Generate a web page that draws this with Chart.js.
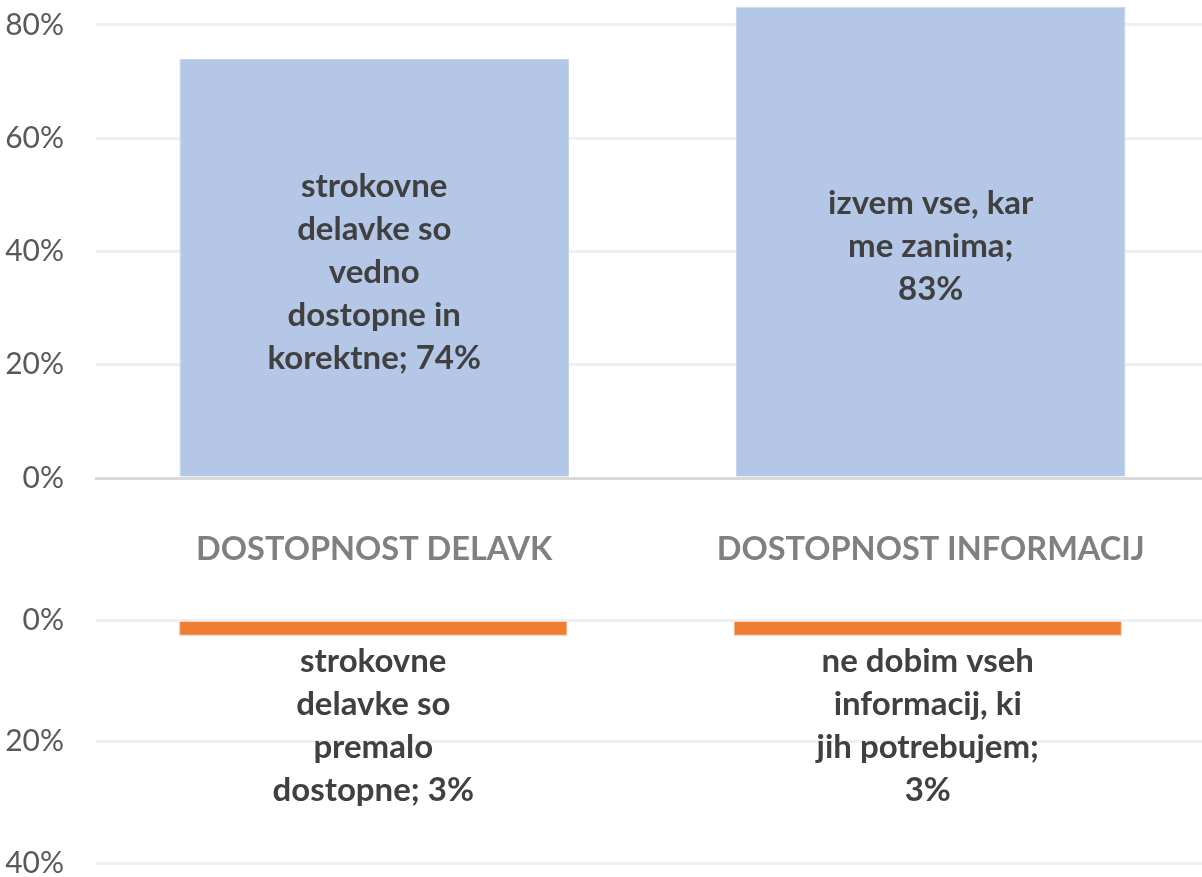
<!DOCTYPE html>
<html lang="sl">
<head>
  <meta charset="UTF-8">
  <title>Dostopnost</title>
  <script src="https://cdn.jsdelivr.net/npm/chart.js"></script>
  <style>
  body {
    margin: 0;
    background: #fff;
    font-family: Lato, sans-serif;
    overflow: hidden;
  }

  #topWrap {
    position: absolute;
    left: 0;
    top: 0;
    width: 1209px;
    height: 600px;
  }

  #bottomWrap {
    position: absolute;
    left: 0;
    top: 600px;
    width: 1205px;
    height: 277px;
  }
</style>
</head>
<body>
  <div id="topWrap"><canvas id="topChart"></canvas></div>
  <div id="bottomWrap"><canvas id="bottomChart"></canvas></div>

  <script>
    // data
    const categories = ['DOSTOPNOST DELAVK', 'DOSTOPNOST INFORMACIJ'];
    const positiveValues = [74, 83.2];
    const negativeValues = [2.6, 2.6];
    const positiveLabels = [
      ['strokovne', 'delavke so', 'vedno', 'dostopne in', 'korektne; 74%'],
      ['izvem vse, kar', 'me zanima;', '83%']
    ];
    const negativeLabels = [
      ['strokovne', 'delavke so', 'premalo', 'dostopne; 3%'],
      ['ne dobim vseh', 'informacij, ki', 'jih potrebujem;', '3%']
    ];
    const topTicks = [0, 20, 40, 60, 80];
    const bottomTicks = [0, 20, 40];

    const labelFont = 'bold 33px Lato';
    const labelLine = 43;

    // writes the multi-line labels, inside the bar (top) or under it (bottom)
    const barText = {
      id: 'barText',
      afterDatasetsDraw(chart, args, opts) {
        const ctx = chart.ctx;
        const meta = chart.getDatasetMeta(0);
        ctx.save();
        ctx.font = labelFont;
        ctx.fillStyle = '#404040';
        ctx.textAlign = 'center';
        ctx.textBaseline = 'middle';
        meta.data.forEach((bar, i) => {
          const lines = opts.lines[i];
          let y;
          if (opts.mode === 'inside') {
            const mid = (bar.y + bar.base) / 2;
            y = mid - (lines.length - 1) * labelLine / 2 + 5;
          } else {
            y = Math.max(bar.y, bar.base) + 26;
          }
          lines.forEach((t, k) => ctx.fillText(t, bar.x, y + k * labelLine));
        });
        ctx.restore();
      }
    };

    const keepTicks = (list) => (scale) => {
      scale.ticks = list.map(v => ({ value: v }));
    };

    // fixed axis width, and no extra room reserved for the end labels
    const fitY = (scale) => {
      scale.width = 96;
      scale.paddingTop = 0;
      scale.paddingBottom = 0;
    };

    const yTicks = {
      color: '#595959',
      font: { family: 'Lato', size: 30 },
      padding: 32,
      callback: v => v + '%'
    };

    new Chart(document.getElementById('topChart'), {
      type: 'bar',
      data: {
        labels: categories,
        datasets: [{
          data: positiveValues,
          backgroundColor: '#b4c7e7',
          borderColor: '#c4d3ee',
          borderWidth: 1,
          barPercentage: 0.7,
          categoryPercentage: 1
        }]
      },
      options: {
        responsive: true,
        maintainAspectRatio: false,
        animation: false,
        layout: { padding: 0 },
        plugins: {
          legend: { display: false },
          tooltip: { enabled: false },
          barText: { mode: 'inside', lines: positiveLabels }
        },
        scales: {
          x: {
            grid: { display: false, drawTicks: false },
            border: { color: '#d9d9d9', width: 3 },
            ticks: {
              color: '#808080',
              font: { family: 'Lato', weight: 'bold', size: 32.5 },
              padding: 52
            },
            afterFit(scale) { scale.height = 122; }
          },
          y: {
            min: 0,
            max: 84.4,
            afterBuildTicks: keepTicks(topTicks),
            grid: { color: '#f0f0f0', lineWidth: 3, drawTicks: false },
            border: { display: false },
            ticks: yTicks,
            afterFit: fitY
          }
        }
      },
      plugins: [barText]
    });

    new Chart(document.getElementById('bottomChart'), {
      type: 'bar',
      data: {
        labels: categories,
        datasets: [{
          data: negativeValues,
          backgroundColor: '#ed7d31',
          borderColor: '#f4b183',
          borderWidth: 1,
          barPercentage: 0.7,
          categoryPercentage: 1
        }]
      },
      options: {
        responsive: true,
        maintainAspectRatio: false,
        animation: false,
        layout: { padding: { top: 20, right: 0, bottom: 14, left: 0 } },
        plugins: {
          legend: { display: false },
          tooltip: { enabled: false },
          barText: { mode: 'below', lines: negativeLabels }
        },
        scales: {
          x: {
            display: false
          },
          y: {
            reverse: true,
            min: 0,
            max: 40,
            afterBuildTicks: keepTicks(bottomTicks),
            grid: { color: '#f0f0f0', lineWidth: 3, drawTicks: false },
            border: { display: false },
            ticks: yTicks,
            afterFit: fitY
          }
        }
      },
      plugins: [barText]
    });
  </script>
</body>
</html>
